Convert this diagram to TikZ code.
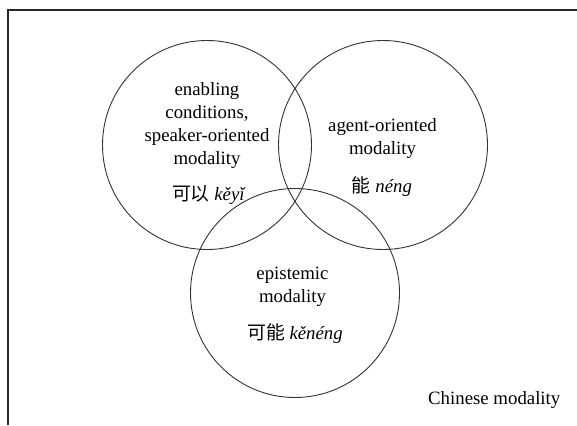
\documentclass[tikz,border=0pt]{standalone}
\usepackage{fontspec}
\setmainfont{Liberation Serif}
\newfontfamily\cjk{Noto Sans CJK SC}
\begin{document}
\begin{tikzpicture}[x=1pt,y=-1pt,
  ring/.style={draw=black!80,line width=0.9pt,circle,minimum size=209pt,inner sep=0pt},
  lbl/.style={align=center,font=\fontsize{18.8}{23}\selectfont,inner sep=0pt},
  frame/.style={draw=black!85,line width=1.1pt}]
\useasboundingbox (0,0) rectangle (577,425);
\coordinate (fb) at (8,425);
\coordinate (fc) at (8,10);
\coordinate (fr) at (577,10);
\draw[frame] (fb) -- (fc) -- (fr);
\node[ring] (L) at (207,145) {};
\node[ring] (R) at (383,145) {};
\node[ring] (B) at (295,293) {};
\node[lbl] (Lt) at (207,126) {enabling\\conditions,\\speaker-oriented\\modality};
\node[lbl] (Lc) at (209,195) {{\cjk 可以} \textit{kěyǐ}};
\node[lbl] (Rt) at (382.5,138.5) {agent-oriented\\modality};
\node[lbl] (Rc) at (382,187) {{\cjk 能} \textit{néng}};
\node[lbl] (Bt) at (292.5,286.5) {epistemic\\modality};
\node[lbl] (Bc) at (295,334) {{\cjk 可能} \textit{kěnéng}};
\node[lbl,anchor=west] (cap) at (428,400) {Chinese modality};
\end{tikzpicture}
\end{document}
